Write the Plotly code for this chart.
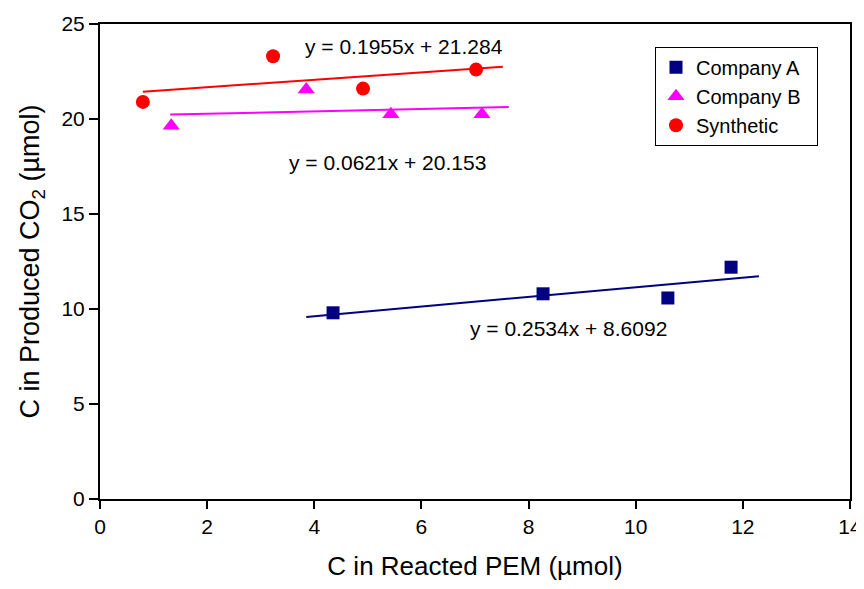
import plotly.graph_objects as go

# Data
a_x = [4.35, 8.27, 10.6, 11.78]
a_y = [9.8, 10.8, 10.58, 12.2]
b_x = [1.33, 3.85, 5.43, 7.13]
b_y = [19.65, 21.55, 20.25, 20.25]
s_x = [0.8, 3.23, 4.91, 7.02]
s_y = [20.9, 23.3, 21.6, 22.6]

# Trendline equations (slope, intercept) and their drawn x-extents
a_fit = (0.2534, 8.6092)
b_fit = (0.0621, 20.153)
s_fit = (0.1955, 21.284)
a_span = [3.85, 12.3]
b_span = [1.31, 7.63]
s_span = [0.8, 7.52]

x_title = "C in Reacted PEM (µmol)"
y_title = "C in Produced CO<sub>2</sub> (µmol)"

a_color = "#000080"
b_color = "#FF00FF"
s_color = "#FF0000"

FONT = "Liberation Sans, Arial, sans-serif"
PAD = "\u00a0\u00a0"

fig = go.Figure()

def trend(span, fit, color):
    xs = span
    ys = [fit[0] * x + fit[1] for x in xs]
    fig.add_trace(go.Scatter(x=xs, y=ys, mode="lines", line=dict(color=color, width=2),
                             showlegend=False, hoverinfo="skip"))

trend(a_span, a_fit, a_color)
trend(b_span, b_fit, b_color)
trend(s_span, s_fit, s_color)

fig.add_trace(go.Scatter(x=a_x, y=a_y, mode="markers", name="Company A" + PAD,
                         marker=dict(symbol="square", size=13, color=a_color)))
fig.add_trace(go.Scatter(x=b_x, y=b_y, mode="markers", name="Company B" + PAD,
                         marker=dict(symbol="triangle-up", size=15, color=b_color)))
fig.add_trace(go.Scatter(x=s_x, y=s_y, mode="markers", name="Synthetic" + PAD,
                         marker=dict(symbol="circle", size=14, color=s_color)))

def eq(fit, nd):
    return f"y = {fit[0]:.4f}x + {fit[1]:.{nd}f}"

ann_font = dict(family=FONT, size=21, color="black")
fig.add_annotation(x=5.67, y=23.8, text=eq(s_fit, 3), showarrow=False, font=ann_font)
fig.add_annotation(x=5.36, y=17.7, text=eq(b_fit, 3), showarrow=False, font=ann_font)
fig.add_annotation(x=8.75, y=9.0, text=eq(a_fit, 4), showarrow=False, font=ann_font)

axis_common = dict(showline=True, linecolor="black", linewidth=2, mirror=True,
                   showgrid=False, zeroline=False, ticks="outside",
                   tickcolor="black", tickwidth=1.5, automargin=False,
                   tickfont=dict(family=FONT, size=21, color="black"))

fig.update_xaxes(range=[0, 14], dtick=2, ticklen=8, **axis_common,
                 title=dict(text=x_title, standoff=24,
                            font=dict(family=FONT, size=26, color="black")))
fig.update_yaxes(range=[0, 25], dtick=5, ticklen=9, **axis_common,
                 title=dict(text=y_title, standoff=14,
                            font=dict(family=FONT, size=27, color="black")))

fig.update_layout(
    width=856, height=573,
    margin=dict(l=92, r=14, t=16, b=82),
    plot_bgcolor="white", paper_bgcolor="white",
    legend=dict(x=0.74, y=0.952, xanchor="left", yanchor="top",
                bgcolor="white", bordercolor="black", borderwidth=1,
                font=dict(family=FONT, size=20, color="black")),
)

fig.write_html("out.html")
